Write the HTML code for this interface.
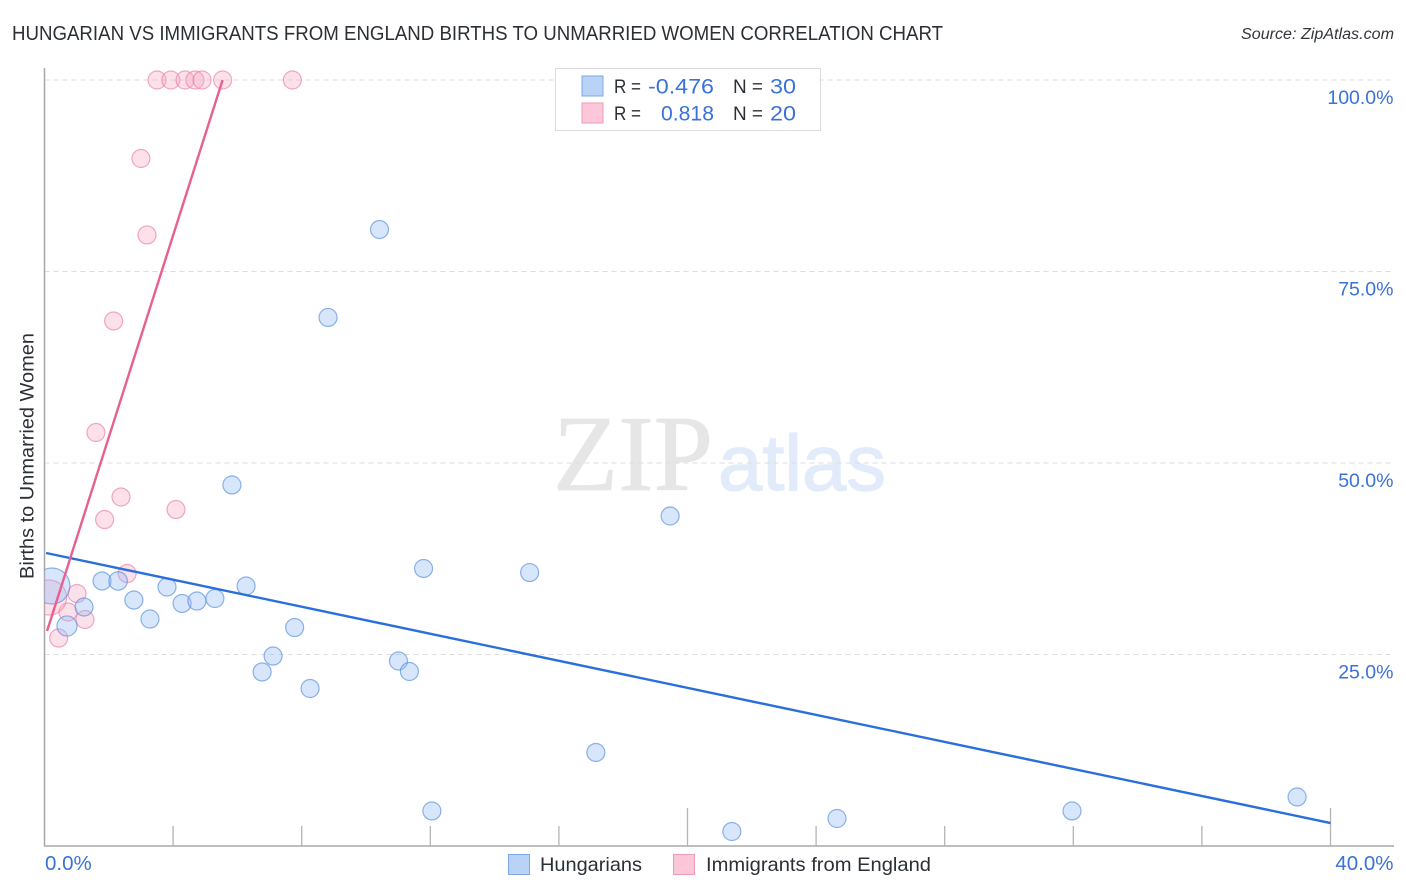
<!DOCTYPE html>
<html lang="en">
<head>
<meta charset="utf-8">
<title>Hungarian vs Immigrants from England Births to Unmarried Women Correlation Chart</title>
<style>
html,body{margin:0;padding:0;background:#fff;width:1406px;height:892px;overflow:hidden}
svg{display:block}
text{font-family:"Liberation Sans",sans-serif}
</style>
</head>
<body>
<svg id="chart" xmlns="http://www.w3.org/2000/svg" width="1406" height="892" viewBox="0 0 1406 892">
  <defs><clipPath id="plot-clip"><rect x="44.5" y="60" width="1350" height="786"/></clipPath></defs>
  <text x="12" y="40" font-size="20" fill="#2b2f36" textLength="931" lengthAdjust="spacingAndGlyphs">HUNGARIAN VS IMMIGRANTS FROM ENGLAND BIRTHS TO UNMARRIED WOMEN CORRELATION CHART</text>
  <text x="1241" y="39" font-size="15.5" font-style="italic" fill="#33363b" textLength="153" lengthAdjust="spacingAndGlyphs">Source: ZipAtlas.com</text>

  <g id="watermark">
    <text x="553" y="490" font-size="108" style="font-family:'Liberation Serif',serif" fill="#e6e6e6" stroke="#e6e6e6" stroke-width="0.8" textLength="160" lengthAdjust="spacingAndGlyphs">ZIP</text>
    <text x="718" y="490" font-size="79" fill="#e2ebf9" stroke="#e2ebf9" stroke-width="1.2" textLength="168" lengthAdjust="spacingAndGlyphs">atlas</text>
  </g>

  <g id="grid"></g>
  <g id="axes"></g>
  <g id="marks" clip-path="url(#plot-clip)"></g>
  <g id="tick-labels"></g>

  <text transform="translate(33.5 579) rotate(-90)" font-size="19.5" fill="#2b2f36" textLength="246" lengthAdjust="spacingAndGlyphs">Births to Unmarried Women</text>

  <g>
    <rect x="555.5" y="68.5" width="265" height="62" fill="#fff" stroke="#dcdcdc"/>
    <rect x="582" y="76" width="21" height="20" fill="#b9d3f7" stroke="#7fa9e6"/>
    <rect x="582" y="103" width="21" height="20" fill="#fcc8d9" stroke="#f09ab6"/>
    <text x="614" y="93" font-size="19" fill="#2b2f36" textLength="27" lengthAdjust="spacingAndGlyphs">R =</text>
    <text x="648" y="93.5" font-size="21.5" fill="#3a72d8" textLength="66" lengthAdjust="spacingAndGlyphs">-0.476</text>
    <text x="733" y="93" font-size="19" fill="#2b2f36" textLength="30" lengthAdjust="spacingAndGlyphs">N =</text>
    <text x="770" y="93.5" font-size="21.5" fill="#3a72d8" textLength="26" lengthAdjust="spacingAndGlyphs">30</text>
    <text x="614" y="120" font-size="19" fill="#2b2f36" textLength="27" lengthAdjust="spacingAndGlyphs">R =</text>
    <text x="661" y="120.5" font-size="21.5" fill="#3a72d8" textLength="53" lengthAdjust="spacingAndGlyphs">0.818</text>
    <text x="733" y="120" font-size="19" fill="#2b2f36" textLength="30" lengthAdjust="spacingAndGlyphs">N =</text>
    <text x="770" y="120.5" font-size="21.5" fill="#3a72d8" textLength="26" lengthAdjust="spacingAndGlyphs">20</text>
  </g>

  <g>
    <rect x="508.5" y="854.5" width="21" height="20" fill="#b9d3f7" stroke="#7fa9e6"/>
    <text x="540" y="871" font-size="19.5" fill="#2b2f36" textLength="102" lengthAdjust="spacingAndGlyphs">Hungarians</text>
    <rect x="673.5" y="854.5" width="21" height="20" fill="#fcc8d9" stroke="#f09ab6"/>
    <text x="706" y="871" font-size="19.5" fill="#2b2f36" textLength="225" lengthAdjust="spacingAndGlyphs">Immigrants from England</text>
  </g>
</svg>
<script>
const hungariansX = [0.23,0.70,1.23,1.79,2.29,2.78,3.28,3.81,4.28,4.74,5.30,5.83,6.27,6.77,7.11,7.78,8.26,8.82,10.42,11.01,11.35,11.79,12.05,15.09,17.15,19.46,21.38,24.65,31.96,38.96];
const hungariansY = [33.94,28.72,31.20,34.60,34.60,32.11,29.63,33.81,31.66,31.98,32.31,47.13,33.94,22.72,24.80,28.52,20.56,69.00,80.48,24.15,22.78,36.23,4.57,35.70,12.21,43.08,1.89,3.59,4.57,6.40];
const hungariansWeight = [4,1.25,1,1,1.05,1,1,1,1,1,1,1,1,1,1,1,1,1,1,1,1,1,1,1,1,1,1,1,1,1];
const englandX = [3.50,3.93,4.37,4.68,4.90,5.54,7.71,3.00,3.19,2.15,1.60,2.38,1.87,4.09,2.57,1.01,1.26,0.73,0.44,0.14];
const englandY = [100,100,100,100,100,100,100,89.75,79.77,68.54,53.98,45.56,42.62,43.93,35.57,32.96,29.57,30.55,27.15,32.44];
const englandWeight = [1,1,1,1,1,1,1,1,1,1,1,1,1,1,1,1,1,1,1,3.8];
const hungariansTrendX = [0.05,40];
const hungariansTrendY = [38.25,3.0];
const englandTrendX = [0.08,5.54];
const englandTrendY = [28.07,100];
const yTicks = [25,50,75,100];
const yTickLabels = ['25.0%','50.0%','75.0%','100.0%'];
const xTicks = [0,4,8,12,16,20,24,28,32,36,40];
const xMajorTicks = [20,40];
const xEndValues = [0,40];
const xEndLabels = ['0.0%','40.0%'];

const NS = 'http://www.w3.org/2000/svg';
const xScale = v => 44.5 + v * 32.15;
const yScale = v => 846 - v * 7.66;
const radiusOf = w => 9 * Math.sqrt(w);

function make(tag, attrs, parent) {
  const el = document.createElementNS(NS, tag);
  for (const k in attrs) el.setAttribute(k, attrs[k]);
  parent.appendChild(el);
  return el;
}

const grid = document.getElementById('grid');
const axes = document.getElementById('axes');
const marks = document.getElementById('marks');
const labels = document.getElementById('tick-labels');

yTicks.forEach((t, i) => {
  const line = make('line', {x1: 44.5, x2: 1394, y1: yScale(t), y2: yScale(t), stroke: '#dddddd', 'stroke-width': 1, 'stroke-dasharray': '5 4'}, grid);
  
  
  const label = make('text', {x: 1393.5, y: yScale(t) + 24, 'text-anchor': 'end', 'font-size': 19.5, fill: '#3a72d8'}, labels);
  
  
  label.textContent = yTickLabels[i];
});

const yAxis = make('line', {x1: 44.5, x2: 44.5, y1: 68, y2: 846.5, stroke: '#a8a8a8', 'stroke-width': 1.5}, axes);


const xAxis = make('line', {x1: 44, x2: 1394, y1: 846, y2: 846, stroke: '#a8a8a8', 'stroke-width': 1.5}, axes);



xTicks.slice(1).forEach(t => {
  const top = xMajorTicks.includes(t) ? 808 : 826;
  const tick = make('line', {x1: xScale(t), x2: xScale(t), y1: top, y2: 846, stroke: '#b4b4b4', 'stroke-width': 1.3}, axes);
  
  
});

xEndValues.forEach((t, i) => {
  const label = make('text', {x: i === 0 ? 45 : 1393.5, y: 870, 'text-anchor': i === 0 ? 'start' : 'end', 'font-size': 20.5, fill: '#3a72d8'}, labels);
  
  
  label.textContent = xEndLabels[i];
});

function drawPoints(xs, ys, weights, fill, stroke, name) {
  xs.forEach((x, i) => {
    const c = make('circle', {cx: xScale(x), cy: yScale(ys[i]), r: radiusOf(weights[i]), fill: fill, stroke: stroke, 'stroke-width': 1.2}, marks);
    
    
  });
}

drawPoints(englandX, englandY, englandWeight, 'rgba(248,170,196,0.36)', 'rgba(232,120,160,0.62)', 'england');
drawPoints(hungariansX, hungariansY, hungariansWeight, 'rgba(150,190,245,0.38)', 'rgba(85,140,220,0.65)', 'hungarians');

const blueTrend = make('line', {x1: xScale(hungariansTrendX[0]), y1: yScale(hungariansTrendY[0]), x2: xScale(hungariansTrendX[1]), y2: yScale(hungariansTrendY[1]), stroke: '#2a6fdb', 'stroke-width': 2.4}, marks);


const pinkTrend = make('line', {x1: xScale(englandTrendX[0]), y1: yScale(englandTrendY[0]), x2: xScale(englandTrendX[1]), y2: yScale(englandTrendY[1]), stroke: '#e8608f', 'stroke-width': 2.4}, marks);


</script>
</body>
</html>
